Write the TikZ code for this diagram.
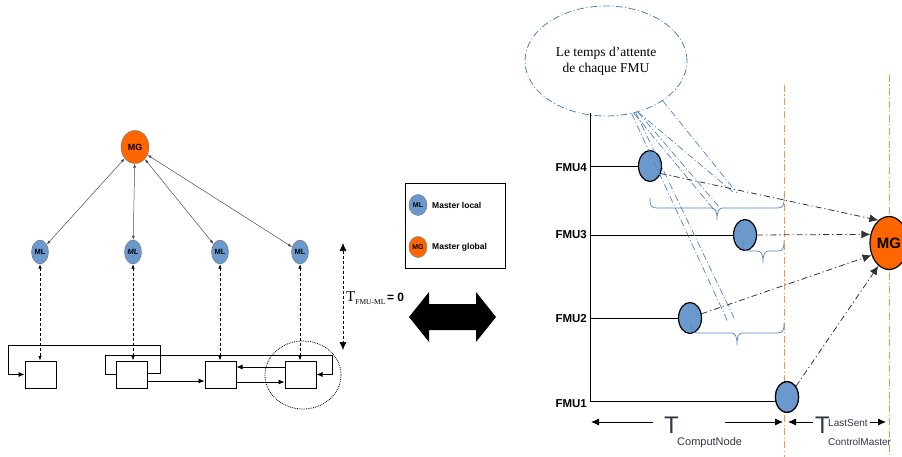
\documentclass[tikz,border=0pt]{standalone}
\usepackage{fontspec}
\setmainfont{Liberation Sans}
\newfontfamily\seriff{Liberation Serif}
\usetikzlibrary{arrows.meta,shapes.geometric,calc}
\definecolor{mlblue}{RGB}{108,153,205}
\definecolor{mgorange}{RGB}{255,102,0}
\definecolor{braceblue}{RGB}{79,129,189}
\definecolor{dashorange}{RGB}{247,150,70}
\definecolor{dimtext}{RGB}{50,55,70}
\newcommand\fmuBrace[4]{%
  \draw[braceline] (#1,#3) .. controls (#1,#3+8) and (#1+1,#3+10) .. (#1+7,#3+10)
    -- (#4-6,#3+10) .. controls (#4-2,#3+10) and (#4,#3+12) .. (#4,#3+22)
    .. controls (#4,#3+12) and (#4+2,#3+10) .. (#4+6,#3+10)
    -- (#2-7,#3+10) .. controls (#2-1,#3+10) and (#2,#3+8) .. (#2,#3);}
\begin{document}
\begin{tikzpicture}[x=1pt,y=-1pt,
  mlnode/.style={ellipse, fill=mlblue, draw=black!55, line width=0.4pt, minimum width=17pt, minimum height=24pt, inner sep=0pt, font=\fontsize{7.5}{8}\selectfont\bfseries},
  mgnode/.style={ellipse, fill=mgorange, draw=black!55, line width=0.4pt, minimum width=28pt, minimum height=33pt, inner sep=0pt, font=\fontsize{9}{10}\selectfont\bfseries},
  boxnode/.style={rectangle, draw, line width=1pt, minimum width=31pt, minimum height=27pt, inner sep=0pt},
  thinarrow/.style={black!70, line width=0.5pt, {Latex[length=4pt,width=3pt]}-{Latex[length=4pt,width=3pt]}},
  dasharrow/.style={densely dashed, line width=0.7pt, {Latex[length=4.5pt,width=3.5pt]}-{Latex[length=4.5pt,width=3.5pt]}},
  boxarrow/.style={line width=0.7pt, -{Latex[length=6pt,width=5pt]}},
  fmunode/.style={ellipse, fill=mlblue, draw=black, line width=1.2pt, minimum width=23pt, minimum height=31pt, inner sep=0pt},
  fmulabel/.style={anchor=east, inner sep=0pt, font=\fontsize{11.5}{12}\selectfont\bfseries},
  orangeline/.style={dashorange, line width=1pt, dash pattern=on 7pt off 2.5pt on 1.2pt off 2.5pt},
  mgarrow/.style={black!80, line width=0.8pt, dash pattern=on 6pt off 3pt on 1.2pt off 3pt, -{Latex[length=9pt,width=8pt]}},
  braceline/.style={braceblue, line width=0.7pt},
  calloutline/.style={braceblue, line width=0.7pt, dash pattern=on 7pt off 2.5pt on 1pt off 2.5pt},
  dimarrow/.style={line width=0.8pt, -{Latex[length=8pt,width=7pt]}}
]
\useasboundingbox (0,0) rectangle (902,457);
\clip (0,0) rectangle (902,457);

% ---------------- left part ----------------
\node[mgnode] (MG) at (135,147) {MG};
\node[mlnode] (ML1) at (40,252) {ML};
\node[mlnode] (ML2) at (133,252) {\itshape ML};
\node[mlnode] (ML3) at (220,252) {ML};
\node[mlnode] (ML4) at (300,252) {ML};
\foreach \i in {1,...,4} \draw[thinarrow] (MG) -- (ML\i);

\node[boxnode] (B1) at (40.5,374.5) {};
\node[boxnode] (B2) at (131.5,374.5) {};
\node[boxnode] (B3) at (220.5,374.5) {};
\node[boxnode] (B4) at (300.5,374.5) {};
\foreach \i in {1,...,4} \draw[dasharrow] (ML\i) -- (ML\i |- B\i.north);

\draw[boxarrow] ($(B2.east)+(0,-1.5)$) -| (160,345) -| (8,374.5) -- (B1.west);
\draw[boxarrow] (B2.west) -| (105,355) -| (332,374.5) -- (B4.east);
\draw[boxarrow] ($(B2.east)+(0,6.5)$) -- ($(B3.west)+(0,6.5)$);
\draw[boxarrow] ($(B3.east)+(0,7.5)$) -- ($(B4.west)+(0,7.5)$);
\draw[boxarrow] ($(B4.west)+(0,-7.5)$) -- ($(B3.east)+(0,-7.5)$);

\node[ellipse, draw, densely dotted, line width=0.8pt, minimum width=76pt, minimum height=68pt] (focus) at (303,375) {};

\coordinate (tt) at (343,243);
\coordinate (tb) at (343,350);
\draw[densely dashed, line width=0.7pt, {Latex[length=8pt,width=7pt]}-{Latex[length=8pt,width=7pt]}] (tt) -- (tb);
\node[anchor=west, inner sep=0pt] (tlabel) at (346,298)
  {{\seriff\fontsize{15}{15}\selectfont T}\raisebox{-3.5pt}{\seriff\fontsize{7.5}{8}\selectfont FMU-ML}\,{\fontsize{12}{12}\selectfont\bfseries = 0}};

% legend
\node[draw, line width=0.8pt, minimum width=100pt, minimum height=85pt, inner sep=0pt] (legend) at (455,225.5) {};
\node[mlnode, minimum width=18pt, minimum height=21pt, font=\fontsize{7}{8}\selectfont\bfseries] (lgML) at (418,205) {ML};
\node[mgnode, minimum width=18pt, minimum height=21pt, font=\fontsize{7}{8}\selectfont\bfseries] (lgMG) at (418,247) {MG};
\node[anchor=west, inner sep=0pt, font=\fontsize{8.5}{9}\selectfont\bfseries] (lgMLt) at (432,205) {Master local};
\node[anchor=west, inner sep=0pt, font=\fontsize{8.5}{9}\selectfont\bfseries] (lgMGt) at (432,247) {Master global};

% big double arrow
\fill[black] (409,317) -- (429,292) -- (429,304) -- (476,304) -- (476,292) -- (496,317)
  -- (476,342) -- (476,330) -- (429,330) -- (429,342) -- cycle;

% ---------------- right part ----------------
\draw[orangeline] (784,85) -- (784,457);
\draw[orangeline] (889,75) -- (889,457);

\coordinate (axtop) at (590,113);
\coordinate (axbot) at (590,401);
\draw[line width=0.7pt] (axtop) -- (axbot);

\node[fmunode] (F4) at (650,166) {};
\node[fmunode] (F3) at (745,235) {};
\node[fmunode] (F2) at (690,318) {};
\node[fmunode] (F1) at (787,397) {};
\node[ellipse, fill=mgorange, draw=black, line width=1.2pt, minimum width=38pt, minimum height=53pt, inner sep=0pt, font=\fontsize{15}{15}\selectfont\bfseries] (MGr) at (889,243) {MG};

\node[fmulabel] (L4) at (587,168) {FMU4};
\node[fmulabel] (L3) at (587,235) {FMU3};
\node[fmulabel] (L2) at (587,319) {FMU2};
\node[fmulabel] (L1) at (587,404) {FMU1};

\draw[line width=0.7pt] (F4.west -| axtop) -- (F4.west);
\draw[line width=0.7pt] (F3.west -| axtop) -- (F3.west);
\draw[line width=0.7pt] (F2.west -| axtop) -- (F2.west);
\draw[line width=0.7pt] (axbot) -- (axbot -| F1.west);
\node[fmunode] at (F1) {};

\draw[mgarrow] (F4.-35) -- (MGr.115);
\draw[mgarrow] (F3.east) -- (MGr.155);
\draw[mgarrow] (F2.20) -- (MGr.215);
\draw[mgarrow] (F1.50) -- (MGr.245);

% braces
\fmuBrace{650}{784}{198}{717}
\fmuBrace{743}{784}{241}{763}
\fmuBrace{691}{784}{323}{737}

% callout
\node[ellipse, draw=braceblue, line width=0.8pt, dash pattern=on 7pt off 2.5pt on 1pt off 2.5pt,
  minimum width=162pt, minimum height=110pt, inner sep=0pt, align=center,
  font=\seriff\fontsize{13.5}{16}\selectfont] (callout) at (606,61) {Le temps d’attente\\de chaque FMU};
\coordinate (c4a) at (715,211);
\coordinate (c4b) at (720,208);
\coordinate (c3a) at (733,192);
\coordinate (c3b) at (737,193);
\coordinate (c2a) at (728,322);
\coordinate (c2b) at (735,320);
\draw[calloutline] (callout.-62) -- (c4a);
\draw[calloutline] (callout.-58) -- (c4b);
\draw[calloutline] (callout.-58) -- (c3a);
\draw[calloutline] (callout.-35) -- (c3b);
\draw[calloutline] (callout.-64) -- (c2a);
\draw[calloutline] (callout.-60) -- (c2b);

% bottom dimensions
\coordinate (d1l) at (591,422);
\coordinate (g1) at (653,422);
\coordinate (g2) at (725,422);
\coordinate (d1r) at (783,422);
\coordinate (d2l) at (788,422);
\coordinate (g3) at (813,422);
\coordinate (g4) at (870,422);
\coordinate (d2r) at (886,422);
\draw[dimarrow] (g1) -- (d1l);
\draw[dimarrow] (g2) -- (d1r);
\draw[dimarrow] (g3) -- (d2l);
\draw[dimarrow] (g4) -- (d2r);
\node[anchor=base west, inner sep=0pt, text=dimtext, font=\fontsize{24}{24}\selectfont] (T1) at (664,433) {T};
\node[anchor=base west, inner sep=0pt, text=dimtext, font=\fontsize{11}{11}\selectfont] (T1s) at (677,445) {ComputNode};
\node[anchor=base west, inner sep=0pt, text=dimtext, font=\fontsize{24}{24}\selectfont] (T2) at (815,433) {T};
\node[anchor=base west, inner sep=0pt, text=dimtext, font=\fontsize{10}{10}\selectfont] (T2u) at (828,426) {LastSent};
\node[anchor=base west, inner sep=0pt, text=dimtext, font=\fontsize{10}{10}\selectfont] (T2s) at (828,445) {ControlMaster};
\end{tikzpicture}
\end{document}
